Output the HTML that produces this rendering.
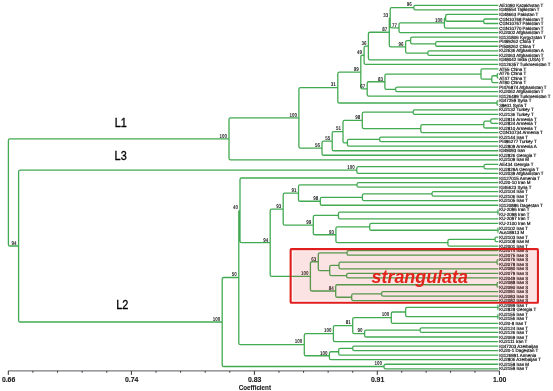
<!DOCTYPE html>
<html><head><meta charset="utf-8"><style>
html,body{margin:0;padding:0;background:#fff;width:553px;height:391px;overflow:hidden}
svg{display:block;font-family:"Liberation Sans",sans-serif;will-change:transform}
</style></head><body>
<svg width="553" height="391" viewBox="0 0 553 391">
<path d="M8.40 192.44V140.45Q8.40 138.85 10.00 138.85H229.00M229.00 138.85V119.48Q229.00 117.88 230.60 117.88H298.90M298.90 117.88V89.16Q298.90 87.56 300.50 87.56H337.80M337.80 87.56V73.70Q337.80 72.10 339.40 72.10H360.80M360.80 72.10V56.83Q360.80 55.23 362.40 55.23H364.10M364.10 55.23V47.66Q364.10 46.06 365.70 46.06H368.40M368.40 46.06V33.85Q368.40 32.25 370.00 32.25H389.30M389.30 32.25V18.60Q389.30 17.70 390.20 17.70H390.20M390.20 17.70V9.22Q390.20 7.62 391.80 7.62H413.80M413.80 7.62V6.95Q413.80 5.35 415.40 5.35H498.30M413.80 7.62V8.29Q413.80 9.89 415.40 9.89H498.30M390.20 17.70V26.18Q390.20 27.78 391.80 27.78H399.00M399.00 27.78V24.55Q399.00 22.95 400.60 22.95H444.40M444.40 22.95V19.04Q444.40 17.84 445.60 17.84H445.60M445.60 17.84V16.04Q445.60 14.44 447.20 14.44H498.30M445.60 17.84V19.65Q445.60 21.25 447.20 21.25H483.70M483.70 21.25V20.58Q483.70 18.98 485.30 18.98H498.30M483.70 21.25V21.92Q483.70 23.52 485.30 23.52H498.30M444.40 22.95V26.46Q444.40 28.06 446.00 28.06H498.30M399.00 27.78V31.01Q399.00 32.61 400.60 32.61H498.30M389.30 32.25V45.20Q389.30 46.80 390.90 46.80H405.60M405.60 46.80V42.16Q405.60 40.56 407.20 40.56H410.60M410.60 40.56V38.75Q410.60 37.15 412.20 37.15H498.30M410.60 40.56V42.37Q410.60 43.97 412.20 43.97H435.60M435.60 43.97V43.29Q435.60 41.69 437.20 41.69H498.30M435.60 43.97V44.64Q435.60 46.24 437.20 46.24H498.30M405.60 46.80V51.45Q405.60 53.05 407.20 53.05H427.80M427.80 53.05V52.38Q427.80 50.78 429.40 50.78H498.30M427.80 53.05V53.72Q427.80 55.32 429.40 55.32H498.30M368.40 46.06V58.27Q368.40 59.87 370.00 59.87H498.30M364.10 55.23V62.81Q364.10 64.41 365.70 64.41H498.30M360.80 72.10V87.37Q360.80 88.97 362.40 88.97H367.20M367.20 88.97V83.33Q367.20 81.73 368.80 81.73H384.90M384.90 81.73V75.66Q384.90 74.06 386.50 74.06H481.00M481.00 74.06V70.55Q481.00 68.95 482.60 68.95H498.30M481.00 74.06V77.57Q481.00 79.17 482.60 79.17H491.80M491.80 79.17V77.37Q491.80 75.77 493.40 75.77H497.20M497.20 75.77V74.60Q497.20 73.49 498.30 73.49H498.30M497.20 75.77V76.94Q497.20 78.04 498.30 78.04H498.30M491.80 79.17V80.98Q491.80 82.58 493.40 82.58H498.30M384.90 81.73V87.80Q384.90 89.40 386.50 89.40H395.60M395.60 89.40V88.72Q395.60 87.12 397.20 87.12H498.30M395.60 89.40V90.07Q395.60 91.67 397.20 91.67H498.30M367.20 88.97V94.61Q367.20 96.21 368.80 96.21H498.30M337.80 87.56V101.42Q337.80 103.02 339.40 103.02H497.00M497.00 103.02V102.05Q497.00 100.75 498.30 100.75H498.30M497.00 103.02V104.00Q497.00 105.30 498.30 105.30H498.30M298.90 117.88V146.61Q298.90 148.21 300.50 148.21H322.00M322.00 148.21V142.74Q322.00 141.14 323.60 141.14H332.20M332.20 141.14V133.16Q332.20 131.56 333.80 131.56H343.00M343.00 131.56V121.94Q343.00 120.34 344.60 120.34H362.30M362.30 120.34V113.71Q362.30 112.11 363.90 112.11H413.20M413.20 112.11V111.44Q413.20 109.84 414.80 109.84H498.30M413.20 112.11V112.78Q413.20 114.38 414.80 114.38H498.30M362.30 120.34V126.98Q362.30 128.58 363.90 128.58H420.80M420.80 128.58V126.20Q420.80 124.60 422.40 124.60H483.80M483.80 124.60V122.80Q483.80 121.20 485.40 121.20H490.70M490.70 121.20V120.52Q490.70 118.92 492.30 118.92H498.30M490.70 121.20V121.87Q490.70 123.47 492.30 123.47H498.30M483.80 124.60V126.41Q483.80 128.01 485.40 128.01H498.30M420.80 128.58V130.95Q420.80 132.55 422.40 132.55H498.30M343.00 131.56V141.18Q343.00 142.78 344.60 142.78H347.40M347.40 142.78V140.97Q347.40 139.37 349.00 139.37H379.60M379.60 139.37V138.70Q379.60 137.10 381.20 137.10H498.30M379.60 139.37V140.04Q379.60 141.64 381.20 141.64H498.30M347.40 142.78V144.58Q347.40 146.18 349.00 146.18H498.30M332.20 141.14V149.13Q332.20 150.73 333.80 150.73H498.30M322.00 148.21V153.67Q322.00 155.27 323.60 155.27H498.30M229.00 138.85V158.21Q229.00 159.81 230.60 159.81H498.30M8.40 192.44V244.42Q8.40 246.02 10.00 246.02H18.60M18.60 246.02V171.63Q18.60 170.03 20.20 170.03H356.80M356.80 170.03V168.23Q356.80 166.63 358.40 166.63H484.00M484.00 166.63V165.95Q484.00 164.35 485.60 164.35H498.30M484.00 166.63V167.30Q484.00 168.90 485.60 168.90H498.30M356.80 170.03V171.84Q356.80 173.44 358.40 173.44H498.30M18.60 246.02V320.41Q18.60 322.01 20.20 322.01H222.20M222.20 322.01V279.10Q222.20 277.50 223.80 277.50H238.80M238.80 277.50V211.55Q238.80 210.35 240.00 210.35H240.00M240.00 210.35V179.58Q240.00 177.98 241.60 177.98H498.30M240.00 210.35V241.12Q240.00 242.72 241.60 242.72H270.20M270.20 242.72V210.68Q270.20 209.08 271.80 209.08H283.20M283.20 209.08V194.63Q283.20 193.03 284.80 193.03H298.50M298.50 193.03V186.40Q298.50 184.80 300.10 184.80H357.00M357.00 184.80V184.13Q357.00 182.53 358.60 182.53H498.30M357.00 184.80V185.47Q357.00 187.07 358.60 187.07H498.30M298.50 193.03V199.67Q298.50 201.27 300.10 201.27H320.30M320.30 201.27V198.89Q320.30 197.29 321.90 197.29H362.40M362.40 197.29V195.48Q362.40 193.88 364.00 193.88H432.00M432.00 193.88V193.21Q432.00 191.61 433.60 191.61H498.30M432.00 193.88V194.56Q432.00 196.16 433.60 196.16H498.30M362.40 197.29V199.10Q362.40 200.70 364.00 200.70H498.30M320.30 201.27V203.64Q320.30 205.24 321.90 205.24H498.30M283.20 209.08V223.52Q283.20 225.12 284.80 225.12H313.30M313.30 225.12V217.06Q313.30 215.46 314.90 215.46H338.40M338.40 215.46V213.66Q338.40 212.06 340.00 212.06H498.00M498.00 212.06V210.09Q498.00 209.78 498.30 209.78H498.30M498.00 212.06V214.03Q498.00 214.33 498.30 214.33H498.30M338.40 215.46V217.27Q338.40 218.87 340.00 218.87H498.30M313.30 225.12V233.17Q313.30 234.77 314.90 234.77H335.90M335.90 234.77V228.42Q335.90 226.82 337.50 226.82H369.70M369.70 226.82V225.01Q369.70 223.41 371.30 223.41H498.30M369.70 226.82V228.63Q369.70 230.23 371.30 230.23H498.00M498.00 230.23V228.26Q498.00 227.96 498.30 227.96H498.30M498.00 230.23V232.20Q498.00 232.50 498.30 232.50H498.30M335.90 234.77V241.12Q335.90 242.72 337.50 242.72H447.90M447.90 242.72V240.91Q447.90 239.31 449.50 239.31H495.00M495.00 239.31V238.64Q495.00 237.04 496.60 237.04H498.30M495.00 239.31V239.99Q495.00 241.59 496.60 241.59H498.30M447.90 242.72V244.53Q447.90 246.13 449.50 246.13H498.30M270.20 242.72V274.77Q270.20 276.37 271.80 276.37H310.40M310.40 276.37V263.35Q310.40 261.75 312.00 261.75H318.30M318.30 261.75V254.54Q318.30 252.94 319.90 252.94H347.00M347.00 252.94V252.27Q347.00 250.67 348.60 250.67H498.30M347.00 252.94V253.62Q347.00 255.22 348.60 255.22H498.30M318.30 261.75V268.95Q318.30 270.55 319.90 270.55H329.70M329.70 270.55V267.04Q329.70 265.44 331.30 265.44H339.00M339.00 265.44V263.63Q339.00 262.03 340.60 262.03H497.00M497.00 262.03V261.06Q497.00 259.76 498.30 259.76H498.30M497.00 262.03V263.00Q497.00 264.30 498.30 264.30H498.30M339.00 265.44V267.24Q339.00 268.84 340.60 268.84H498.30M329.70 270.55V274.06Q329.70 275.66 331.30 275.66H346.60M346.60 275.66V274.99Q346.60 273.39 348.20 273.39H498.30M346.60 275.66V276.33Q346.60 277.93 348.20 277.93H498.30M310.40 276.37V289.39Q310.40 290.99 312.00 290.99H335.70M335.70 290.99V286.34Q335.70 284.74 337.30 284.74H497.00M497.00 284.74V283.77Q497.00 282.47 498.30 282.47H498.30M497.00 284.74V285.72Q497.00 287.02 498.30 287.02H498.30M335.70 290.99V295.64Q335.70 297.24 337.30 297.24H351.70M351.70 297.24V295.43Q351.70 293.83 353.30 293.83H381.60M381.60 293.83V293.16Q381.60 291.56 383.20 291.56H498.30M381.60 293.83V294.50Q381.60 296.10 383.20 296.10H498.30M351.70 297.24V299.05Q351.70 300.65 353.30 300.65H498.30M238.80 277.50V343.06Q238.80 344.66 240.40 344.66H304.30M304.30 344.66V335.18Q304.30 333.58 305.90 333.58H333.40M333.40 333.58V327.23Q333.40 325.63 335.00 325.63H352.70M352.70 325.63V319.28Q352.70 317.68 354.30 317.68H391.30M391.30 317.68V313.60Q391.30 312.00 392.90 312.00H405.60M405.60 312.00V309.06Q405.60 307.46 407.20 307.46H498.00M498.00 307.46V305.49Q498.00 305.19 498.30 305.19H498.30M498.00 307.46V309.43Q498.00 309.73 498.30 309.73H498.30M405.60 312.00V314.95Q405.60 316.55 407.20 316.55H498.00M498.00 316.55V314.57Q498.00 314.27 498.30 314.27H498.30M498.00 316.55V318.52Q498.00 318.82 498.30 318.82H498.30M391.30 317.68V321.76Q391.30 323.36 392.90 323.36H498.30M352.70 325.63V331.98Q352.70 333.58 354.30 333.58H364.60M364.60 333.58V331.77Q364.60 330.17 366.20 330.17H420.10M420.10 330.17V329.50Q420.10 327.90 421.70 327.90H498.30M420.10 330.17V330.85Q420.10 332.45 421.70 332.45H498.30M364.60 333.58V335.39Q364.60 336.99 366.20 336.99H498.30M333.40 333.58V339.93Q333.40 341.53 335.00 341.53H498.30M304.30 344.66V354.13Q304.30 355.73 305.90 355.73H329.40M329.40 355.73V353.35Q329.40 351.75 331.00 351.75H338.70M338.70 351.75V349.95Q338.70 348.35 340.30 348.35H352.70M352.70 348.35V347.68Q352.70 346.08 354.30 346.08H498.30M352.70 348.35V349.02Q352.70 350.62 354.30 350.62H498.30M338.70 351.75V353.56Q338.70 355.16 340.30 355.16H498.30M329.40 355.73V358.10Q329.40 359.70 331.00 359.70H498.30M222.20 322.01V364.92Q222.20 366.52 223.80 366.52H384.00M384.00 366.52V365.85Q384.00 364.25 385.60 364.25H498.30M384.00 366.52V367.19Q384.00 368.79 385.60 368.79H498.30" fill="none" stroke="#42aa52" stroke-width="1.3" stroke-linejoin="round"/>
<path d="M8.20 370.90H499.40" fill="none" stroke="#7a7a80" stroke-width="1.3"/>
<path d="M8.30 370.90v4.0M32.92 370.90v1.8M57.54 370.90v1.8M82.16 370.90v1.8M106.78 370.90v1.8M131.40 370.90v4.0M156.00 370.90v1.8M180.60 370.90v1.8M205.20 370.90v1.8M229.80 370.90v1.8M254.40 370.90v4.0M278.98 370.90v1.8M303.56 370.90v1.8M328.14 370.90v1.8M352.72 370.90v1.8M377.30 370.90v4.0M401.72 370.90v1.8M426.14 370.90v1.8M450.56 370.90v1.8M474.98 370.90v1.8M499.40 370.90v4.0" fill="none" stroke="#333" stroke-width="1"/>
<g font-family="Liberation Sans" font-size="4.45" fill="#111" stroke="#111" stroke-width="0.18" text-rendering="geometricPrecision">
<text x="499.2" y="6.95">AE1090 Kazakhstan T</text>
<text x="499.2" y="11.49">IG48554 Tajikistan T</text>
<text x="499.2" y="16.04">IG48663 Pakistan T</text>
<text x="499.2" y="20.58">CGN10768 Pakistan T</text>
<text x="499.2" y="25.12">CGN10767 Pakistan T</text>
<text x="499.2" y="29.66">CGN10770 Pakistan T</text>
<text x="499.2" y="34.21">KU2002 Afghanistan T</text>
<text x="499.2" y="38.75">IG131806 Kyrgyzstan T</text>
<text x="499.2" y="43.29">PI499262 China T</text>
<text x="499.2" y="47.84">PI508262 China T</text>
<text x="499.2" y="52.38">KU2636 Afghanistan A</text>
<text x="499.2" y="56.92">KU2063 Afghanistan T</text>
<text x="499.2" y="61.47">IG48042 India (USA) T</text>
<text x="499.2" y="66.01">IG126357 Turkmenistan T</text>
<text x="499.2" y="70.55">AT55 China T</text>
<text x="499.2" y="75.09">AT76 China T</text>
<text x="499.2" y="79.64">AT47 China T</text>
<text x="499.2" y="84.18">AT80 China T</text>
<text x="499.2" y="88.72">PI476874 Afghanistan T</text>
<text x="499.2" y="93.27">KU2062 Afghanistan T</text>
<text x="499.2" y="97.81">IG126489 Turkmenistan T</text>
<text x="499.2" y="102.35">IG47259 Syria T</text>
<text x="499.2" y="106.90">38e01 Syria T</text>
<text x="499.2" y="111.44">KU2132 Turkey T</text>
<text x="499.2" y="115.98">KU2136 Turkey T</text>
<text x="499.2" y="120.52">KU2816 Armenia T</text>
<text x="499.2" y="125.07">KU2824 Armenia T</text>
<text x="499.2" y="129.61">KU2810 Armenia T</text>
<text x="499.2" y="134.15">CGN10734 Armenia T</text>
<text x="499.2" y="138.70">KU2144 Iran T</text>
<text x="499.2" y="143.24">PI486277 Turkey T</text>
<text x="499.2" y="147.78">KU2809 Armenia A</text>
<text x="499.2" y="152.33">IG49093 Iran</text>
<text x="499.2" y="156.87">KU2826 Georgia T</text>
<text x="499.2" y="161.41">KU2109 Iran M</text>
<text x="499.2" y="165.95">AE434 Georgia T</text>
<text x="499.2" y="170.50">KU2829A Georgia T</text>
<text x="499.2" y="175.04">KU2039 Afghanistan T</text>
<text x="499.2" y="179.58">IG127015 Armenia T</text>
<text x="499.2" y="184.13">KU20-10 Iran M</text>
<text x="499.2" y="188.67">IG46623 Syria T</text>
<text x="499.2" y="193.21">KU2104 Iran T</text>
<text x="499.2" y="197.76">KU2106 Iran T</text>
<text x="499.2" y="202.30">KU2105 Iran T</text>
<text x="499.2" y="206.84">IG120886 Dagestan T</text>
<text x="499.2" y="211.38">KU-2096 Iran T</text>
<text x="499.2" y="215.93">KU-2098 Iran T</text>
<text x="499.2" y="220.47">KU-2097 Iran T</text>
<text x="499.2" y="225.01">KU-2100 Iran M</text>
<text x="499.2" y="229.56">KU2102 Iran T</text>
<text x="499.2" y="234.10">Aus18913 M</text>
<text x="499.2" y="238.64">KU2103 Iran T</text>
<text x="499.2" y="243.19">KU2108 Iran M</text>
<text x="499.2" y="247.73">KU2001 Iran T</text>
<text x="499.2" y="252.27">KU2074 Iran S</text>
<text x="499.2" y="256.81">KU2075 Iran S</text>
<text x="499.2" y="261.36">KU2076 Iran S</text>
<text x="499.2" y="265.90">KU2078 Iran S</text>
<text x="499.2" y="270.44">KU2080 Iran S</text>
<text x="499.2" y="274.99">KU2079 Iran S</text>
<text x="499.2" y="279.53">KU2049 Iran S</text>
<text x="499.2" y="284.07">KU2088 Iran S</text>
<text x="499.2" y="288.62">KU2090 Iran S</text>
<text x="499.2" y="293.16">KU2091 Iran S</text>
<text x="499.2" y="297.70">KU2083 Iran S</text>
<text x="499.2" y="302.25">KU2082 Iran S</text>
<text x="499.2" y="306.79">KU2099 Iran T</text>
<text x="499.2" y="311.33">KU2828 Georgia T</text>
<text x="499.2" y="315.87">KU2155 Iran T</text>
<text x="499.2" y="320.42">KU2156 Iran T</text>
<text x="499.2" y="324.96">KU20-8 Iran T</text>
<text x="499.2" y="329.50">KU2124 Iran T</text>
<text x="499.2" y="334.05">KU2126 Iran T</text>
<text x="499.2" y="338.59">KU2069 Iran T</text>
<text x="499.2" y="343.13">KU2111 Iran T</text>
<text x="499.2" y="347.68">IG47203 Azerbaijan</text>
<text x="499.2" y="352.22">KU20-1 Dagestan T</text>
<text x="499.2" y="356.76">IG126991 Armenia</text>
<text x="499.2" y="361.30">KU2806 Azerbaijan T</text>
<text x="499.2" y="365.85">KU2158 Iran M</text>
<text x="499.2" y="370.39">KU2159 Iran T</text>
</g>
<g font-family="Liberation Sans" font-weight="bold" font-size="5.6" fill="#1a1a1a" text-anchor="end" text-rendering="geometricPrecision" transform="scale(0.8 1)">
<text x="514.75" y="6.42">96</text>
<text x="553.00" y="21.75">100</text>
<text x="496.25" y="26.58">77</text>
<text x="485.25" y="16.50">33</text>
<text x="504.50" y="45.60">96</text>
<text x="484.12" y="31.05">87</text>
<text x="458.00" y="44.86">36</text>
<text x="452.62" y="54.03">49</text>
<text x="478.62" y="80.53">83</text>
<text x="456.50" y="87.77">67</text>
<text x="448.50" y="70.90">99</text>
<text x="419.75" y="86.36">31</text>
<text x="450.38" y="119.14">98</text>
<text x="426.25" y="130.36">51</text>
<text x="412.75" y="139.94">55</text>
<text x="400.00" y="147.01">56</text>
<text x="371.12" y="116.68">100</text>
<text x="283.75" y="137.65">100</text>
<text x="443.50" y="168.83">100</text>
<text x="397.88" y="200.07">98</text>
<text x="370.62" y="191.83">91</text>
<text x="417.37" y="233.57">93</text>
<text x="389.12" y="223.92">99</text>
<text x="351.50" y="207.88">93</text>
<text x="395.38" y="260.55">63</text>
<text x="417.12" y="289.79">84</text>
<text x="385.50" y="275.17">100</text>
<text x="335.25" y="241.52">94</text>
<text x="297.50" y="209.15">40</text>
<text x="486.62" y="316.48">100</text>
<text x="453.25" y="332.38">90</text>
<text x="438.37" y="324.43">81</text>
<text x="414.25" y="332.38">100</text>
<text x="409.25" y="354.53">100</text>
<text x="377.88" y="343.46">100</text>
<text x="296.00" y="276.30">50</text>
<text x="477.50" y="365.32">100</text>
<text x="275.25" y="320.81">100</text>
<text x="20.75" y="244.82">94</text>
</g>
<g font-family="Liberation Sans" font-weight="bold" font-size="6.9" fill="#1a1a1a" stroke="#1a1a1a" stroke-width="0.12" text-anchor="middle">
<text x="8.60" y="381.6">0.66</text>
<text x="131.70" y="381.6">0.74</text>
<text x="254.70" y="381.6">0.83</text>
<text x="377.60" y="381.6">0.91</text>
<text x="499.70" y="381.6">1.00</text>
<text x="254.85" y="389.6" font-size="7" textLength="32.3" lengthAdjust="spacingAndGlyphs">Coefficient</text>
</g>
<g font-family="Liberation Sans" font-size="13.1" fill="#000" stroke="#000" stroke-width="0.35" transform="scale(0.83 1)">
<text x="138.19" y="127.5">L1</text>
<text x="138.07" y="159.9">L3</text>
<text x="140.00" y="309.4">L2</text>
</g>
<rect x="292.9" y="251.3" width="243.6" height="49.3" fill="rgb(225,30,40)" fill-opacity="0.13"/>
<rect x="290.65" y="249.15" width="247.25" height="53.55" rx="0.8" fill="none" stroke="#e01e1e" stroke-width="2.1"/>
<text x="371.6" y="282.6" font-family="Liberation Sans" font-weight="bold" font-style="italic" font-size="17.5" fill="#e2231a" textLength="96.3" lengthAdjust="spacingAndGlyphs">strangulata</text>
</svg>
</body></html>
